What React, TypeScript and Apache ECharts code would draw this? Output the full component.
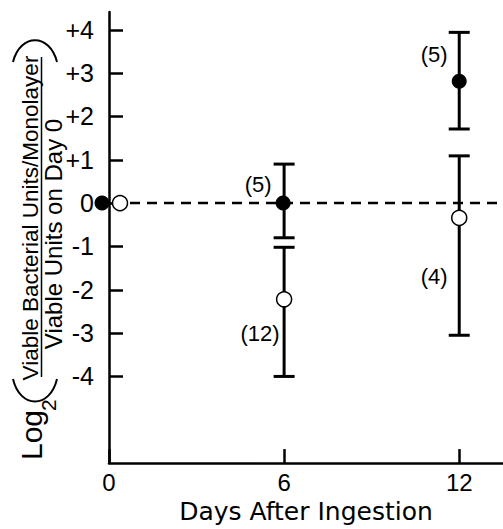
import React, { useEffect, useRef } from "react";
import * as echarts from "echarts";

// ---- data ----
const days = [0, 6, 12];
const filledMean = [0, 0, 2.81];
const filledLow = [null, -0.8, 1.71];
const filledHigh = [null, 0.9, 3.94];
const filledN = [null, 5, 5];
const openMean = [0, -2.22, -0.34];
const openLow = [null, -4.0, -3.05];
const openHigh = [null, -1.02, 1.09];
const openN = [null, 12, 4];
const yTickValues = [-4, -3, -2, -1, 0, 1, 2, 3, 4];
const xTickValues = [0, 6, 12];
const X_MIN = 0;
const X_MAX = 13.5;
const Y_MIN = -6;
const Y_MAX = 4.41;

// ---- styles (pixel offsets, not data) ----
const filledSymbolOffsets = [[-7, 0], [-1, 0], [0, 0]];
const openSymbolOffsets = [[11, 0], [0, 0], [0, 0]];
const filledLabelOffsets = [[0, 0], [-25, -19], [-25, -27]];
const openLabelOffsets = [[0, 0], [-24, 34], [-25, 59]];

const FONT = "'Liberation Sans', Arial, Helvetica, sans-serif";

function buildOption() {
  const errData: number[][] = [];
  days.forEach((d, i) => {
    if (filledLow[i] != null) errData.push([d, filledLow[i] as number, filledHigh[i] as number]);
    if (openLow[i] != null) errData.push([d, openLow[i] as number, openHigh[i] as number]);
  });

  const filledData = days.map((d, i) => ({
    value: [d, filledMean[i]],
    symbolOffset: filledSymbolOffsets[i],
    label: {
      show: filledN[i] != null,
      formatter: `(${filledN[i]})`,
      position: "inside",
      offset: filledLabelOffsets[i],
    },
  }));
  const openData = days.map((d, i) => ({
    value: [d, openMean[i]],
    symbolOffset: openSymbolOffsets[i],
    label: {
      show: openN[i] != null,
      formatter: `(${openN[i]})`,
      position: "inside",
      offset: openLabelOffsets[i],
    },
  }));

  const labelStyle = {
    color: "#000",
    fontSize: 22,
    fontFamily: FONT,
    align: "center",
    verticalAlign: "middle",
  };

  const txt = (text: string, x: number, y: number, size: number, align = "center") => ({
    type: "text",
    x,
    y,
    style: {
      text,
      fill: "#000",
      fontSize: size,
      fontFamily: FONT,
      textAlign: align,
      textVerticalAlign: "middle",
    },
  });

  return {
    animation: false,
    backgroundColor: "#fff",
    grid: { left: 109, right: 0, top: 12, bottom: 65, containLabel: false },
    xAxis: {
      type: "value",
      min: X_MIN,
      max: X_MAX,
      interval: 6,
      name: "Days After Ingestion",
      nameLocation: "middle",
      nameGap: 31,
      nameTextStyle: { color: "#000", fontSize: 25, fontFamily: "'DejaVu Sans', sans-serif" },
      axisLine: { show: true, onZero: false, lineStyle: { color: "#000", width: 2.5 } },
      axisTick: { show: true, inside: true, length: 14, customValues: xTickValues, lineStyle: { color: "#000", width: 2.5 } },
      axisLabel: { customValues: xTickValues, color: "#000", fontSize: 24, fontFamily: FONT, margin: 7 },
      splitLine: { show: false },
    },
    yAxis: {
      type: "value",
      min: Y_MIN,
      max: Y_MAX,
      interval: 1,
      axisLine: { show: true, onZero: false, lineStyle: { color: "#000", width: 2.5 } },
      axisTick: { show: true, inside: true, length: 14, customValues: yTickValues, lineStyle: { color: "#000", width: 2.5 } },
      axisLabel: {
        customValues: yTickValues,
        color: "#000",
        fontSize: 25,
        fontFamily: FONT,
        margin: 15,
        formatter: (v: number) => (v > 0 ? `+${v}` : `${v}`),
      },
      splitLine: { show: false },
    },
    graphic: [
      {
        type: "group",
        x: 0,
        y: 460,
        rotation: Math.PI / 2,
        children: [
          txt("Log", 0, 31, 30, "left"),
          txt("2", 49, 48, 21, "left"),
          {
            type: "bezierCurve",
            shape: { x1: 81, y1: 13, x2: 81, y2: 57, cpx1: 51, cpy1: 20, cpx2: 51, cpy2: 50 },
            style: { stroke: "#000", lineWidth: 2, fill: null },
          },
          txt("Viable Bacterial Units/Monolayer", 242, 30.5, 22.5),
          {
            type: "line",
            shape: { x1: 83, y1: 41.5, x2: 403, y2: 41.5 },
            style: { stroke: "#000", lineWidth: 1.5 },
          },
          txt("Viable Units on Day 0", 226, 53, 24),
          {
            type: "bezierCurve",
            shape: { x1: 398, y1: 13, x2: 398, y2: 57, cpx1: 427, cpy1: 20, cpx2: 427, cpy2: 50 },
            style: { stroke: "#000", lineWidth: 2, fill: null },
          },
        ],
      },
    ],
    series: [
      {
        type: "line",
        data: [[X_MIN, 0], [X_MAX, 0]],
        showSymbol: false,
        silent: true,
        z: 1,
        lineStyle: { color: "#000", width: 2.5, type: [10, 7], dashOffset: 13 },
      },
      {
        type: "custom",
        data: errData,
        z: 2,
        silent: true,
        encode: { x: 0, y: [1, 2] },
        renderItem: (params: any, api: any) => {
          const x = api.value(0);
          const lo = api.value(1);
          const hi = api.value(2);
          const top = api.coord([x, hi]);
          const bot = api.coord([x, lo]);
          const hw = 10.5;
          const st = { stroke: "#000", lineWidth: 3 };
          return {
            type: "group",
            children: [
              { type: "line", shape: { x1: top[0], y1: top[1], x2: bot[0], y2: bot[1] }, style: st },
              { type: "line", shape: { x1: top[0] - hw, y1: top[1], x2: top[0] + hw, y2: top[1] }, style: st },
              { type: "line", shape: { x1: bot[0] - hw, y1: bot[1], x2: bot[0] + hw, y2: bot[1] }, style: st },
            ],
          };
        },
      },
      {
        type: "scatter",
        data: filledData,
        symbol: "circle",
        symbolSize: 15,
        z: 3,
        clip: false,
        itemStyle: { color: "#000", opacity: 1 },
        label: labelStyle,
      },
      {
        type: "scatter",
        data: openData,
        symbol: "circle",
        symbolSize: 15,
        z: 3,
        clip: false,
        itemStyle: { color: "#fff", borderColor: "#000", borderWidth: 1.5, opacity: 1 },
        label: labelStyle,
      },
    ],
  };
}

export default function App() {
  const ref = useRef<HTMLDivElement>(null);
  useEffect(() => {
    if (!ref.current) return;
    const chart = echarts.init(ref.current, null, { renderer: "svg" });
    chart.setOption(buildOption() as any);
    return () => chart.dispose();
  }, []);
  return (
    <div
      ref={ref}
      style={{ position: "fixed", left: 0, top: 0, width: 503, height: 529, background: "#fff" }}
    />
  );
}
